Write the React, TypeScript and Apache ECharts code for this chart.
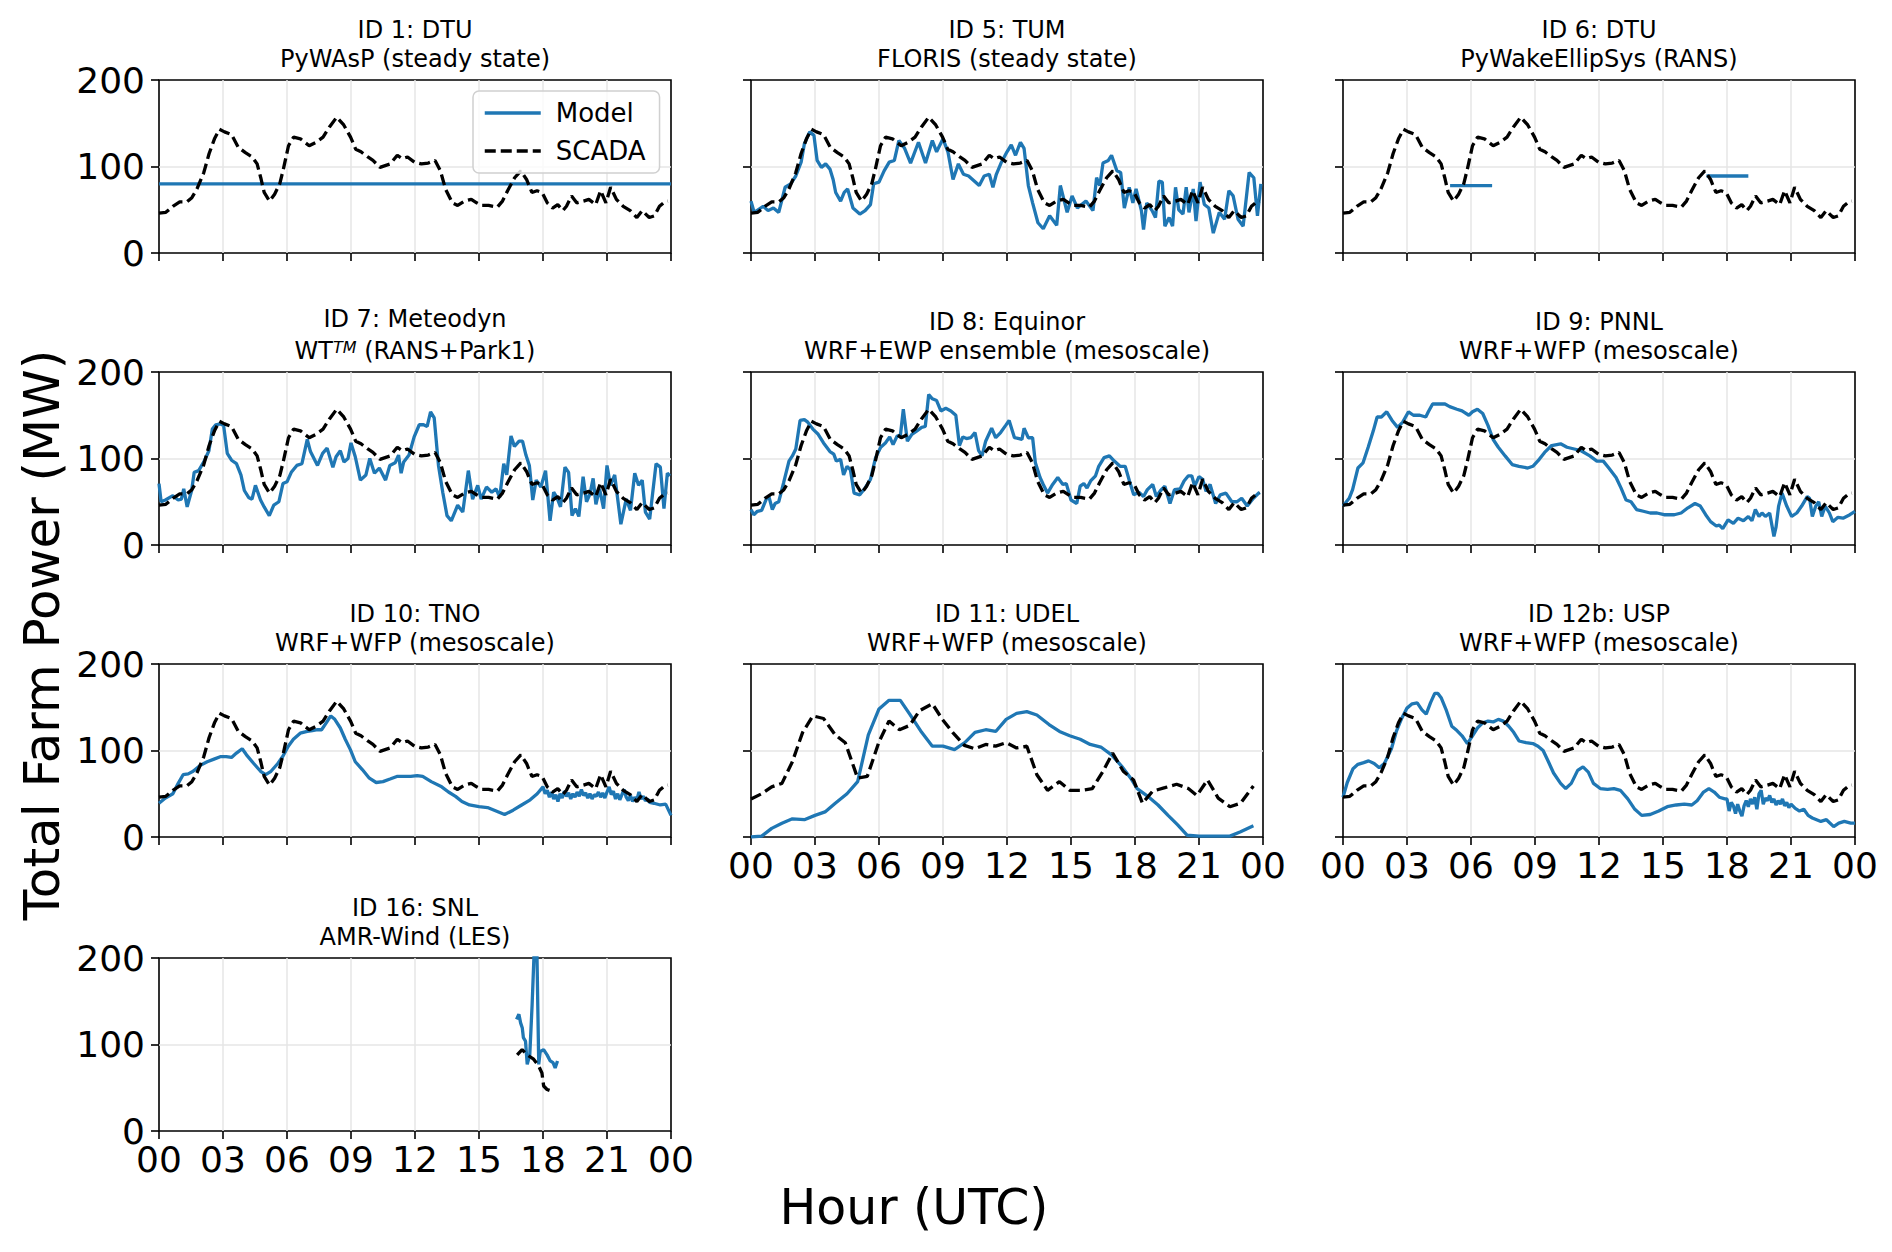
import React, { useEffect, useRef } from "react";
import * as echarts from "echarts";

type Pt = [number, number];

// hour (UTC), total farm power (MW)
const scada: Pt[] = [
  [0, 46], [0.32, 47], [0.65, 54], [0.97, 59], [1.3, 59], [1.54, 64], [1.78, 74], [2.1, 93],
  [2.35, 115], [2.6, 132], [2.83, 143], [3.07, 140], [3.4, 137], [3.72, 122], [4.05, 116],
  [4.37, 111], [4.6, 103], [4.77, 87], [4.93, 70], [5.18, 60], [5.42, 68], [5.66, 80],
  [5.83, 97], [6.07, 124], [6.31, 134], [6.63, 132], [7.04, 124], [7.36, 128], [7.69, 134],
  [8.0, 146], [8.33, 157], [8.66, 148], [8.98, 134], [9.22, 120], [9.47, 117], [9.79, 111],
  [10.03, 107], [10.36, 99], [10.6, 101], [10.84, 103], [11.17, 113], [11.4, 109],
  [11.65, 111], [11.97, 105], [12.3, 103], [12.62, 104], [12.94, 107], [13.19, 95],
  [13.43, 74], [13.75, 58], [14.0, 55], [14.32, 60], [14.64, 62], [14.89, 58], [15.13, 55],
  [15.45, 55], [15.86, 53], [16.1, 60], [16.34, 72], [16.67, 87], [16.96, 95], [17.23, 85],
  [17.48, 70], [17.72, 72], [17.96, 70], [18.2, 58], [18.45, 52], [18.69, 56], [18.93, 49],
  [19.1, 54], [19.34, 66], [19.58, 58], [19.9, 60], [20.15, 62], [20.47, 56], [20.7, 72],
  [20.95, 58], [21.17, 76], [21.44, 62], [21.76, 54], [22.09, 49], [22.4, 41], [22.65, 49],
  [22.98, 41], [23.22, 43], [23.46, 54], [23.7, 59], [23.85, 60],
];

const scadaCoarse: Pt[] = [
  [0, 44], [0.5, 50], [0.97, 58], [1.45, 62], [1.94, 87], [2.42, 121], [2.9, 140], [3.4, 137],
  [3.95, 118], [4.42, 109], [5.0, 68], [5.45, 70], [6.0, 110], [6.47, 134], [6.96, 124],
  [7.44, 129], [7.9, 146], [8.5, 154], [8.97, 136], [9.45, 121], [10.0, 106], [10.5, 102],
  [11.0, 107], [11.47, 105], [11.96, 109], [12.45, 103], [12.93, 105], [13.4, 72], [13.9, 54],
  [14.46, 64], [14.94, 54], [15.5, 54], [16.0, 56], [16.5, 76], [16.95, 97], [17.45, 76],
  [17.93, 66], [18.35, 39], [18.83, 53], [19.4, 57], [19.95, 61], [20.5, 56], [20.9, 48],
  [21.4, 66], [21.9, 45], [22.45, 35], [22.95, 39], [23.55, 59],
];

const scadaLes: Pt[] = [
  [16.79, 88], [17.02, 94], [17.26, 88], [17.56, 83], [17.8, 75], [17.95, 67], [18.03, 52],
  [18.19, 48], [18.42, 46],
];

const id1Model: Pt[] = [[0, 80], [24, 80]];

const id5Model: Pt[] = [
  [0, 60], [0.15, 47], [0.33, 50], [0.57, 54], [0.8, 49], [1.05, 52], [1.3, 47], [1.6, 76],
  [1.86, 80], [2.1, 89], [2.35, 105], [2.5, 126], [2.75, 140], [2.95, 136], [3.1, 107],
  [3.3, 99], [3.5, 103], [3.7, 97], [3.85, 85], [3.97, 70], [4.2, 60], [4.37, 70], [4.53, 74],
  [4.78, 52], [5.1, 45], [5.35, 49], [5.6, 56], [5.75, 80], [6.0, 82], [6.24, 95], [6.48, 105],
  [6.72, 107], [6.93, 130], [7.2, 121], [7.48, 104], [7.85, 128], [8.18, 104], [8.5, 130],
  [8.7, 117], [9.0, 132], [9.23, 117], [9.47, 85], [9.72, 103], [9.96, 91], [10.2, 89],
  [10.7, 78], [10.93, 89], [11.17, 91], [11.34, 76], [11.5, 91], [11.74, 105], [12.0, 117],
  [12.2, 125], [12.4, 113], [12.63, 128], [12.8, 121], [13.0, 78], [13.2, 58], [13.45, 35],
  [13.7, 28], [14.0, 43], [14.33, 32], [14.5, 78], [14.82, 47], [15.05, 66], [15.3, 52],
  [15.7, 60], [16.03, 49], [16.2, 87], [16.35, 78], [16.5, 104], [16.75, 107], [16.9, 113],
  [17.15, 95], [17.33, 93], [17.5, 52], [17.73, 76], [17.9, 58], [18.05, 74], [18.3, 49],
  [18.4, 27], [18.55, 58], [18.8, 49], [18.96, 41], [19.12, 83], [19.28, 82], [19.4, 31],
  [19.6, 41], [19.76, 31], [19.9, 76], [20.05, 50], [20.25, 45], [20.4, 76], [20.53, 47],
  [20.73, 74], [20.86, 37], [21.05, 82], [21.25, 56], [21.46, 52], [21.67, 23], [21.95, 47],
  [22.2, 39], [22.4, 72], [22.6, 66], [22.83, 39], [23.07, 31], [23.35, 93], [23.57, 87],
  [23.74, 43], [23.9, 80],
];

const id6ModelA: Pt[] = [[5.02, 78], [6.99, 78]];
const id6ModelB: Pt[] = [[17.04, 89], [19.0, 89]];

const id7Model: Pt[] = [
  [0, 71], [0.1, 50], [0.3, 52], [0.65, 57], [0.9, 52], [1.05, 53], [1.16, 65], [1.32, 44],
  [1.53, 63], [1.65, 84], [1.86, 86], [2.1, 96], [2.34, 109], [2.5, 134], [2.66, 139],
  [2.87, 140], [3.03, 138], [3.2, 106], [3.4, 98], [3.63, 94], [3.84, 81], [4.0, 63],
  [4.2, 55], [4.36, 53], [4.52, 69], [4.76, 52], [4.93, 44], [5.17, 34], [5.38, 46],
  [5.62, 50], [5.81, 71], [6.0, 73], [6.2, 84], [6.46, 92], [6.7, 94], [6.95, 122], [7.1, 108],
  [7.43, 92], [7.67, 106], [7.88, 112], [8.15, 90], [8.3, 102], [8.5, 109], [8.67, 96],
  [8.86, 100], [9.0, 118], [9.2, 102], [9.44, 75], [9.7, 81], [9.88, 100], [10.1, 83],
  [10.33, 89], [10.62, 75], [10.82, 92], [11.07, 95], [11.23, 104], [11.35, 83], [11.47, 96],
  [11.72, 104], [11.96, 125], [12.2, 139], [12.4, 139], [12.57, 137], [12.73, 154],
  [12.9, 147], [13.1, 92], [13.3, 61], [13.5, 34], [13.7, 28], [14.0, 46], [14.24, 38],
  [14.5, 86], [14.7, 53], [14.94, 69], [15.1, 53], [15.35, 67], [15.6, 61], [15.8, 65],
  [15.97, 55], [16.16, 94], [16.3, 81], [16.5, 126], [16.66, 114], [16.88, 120], [17.04, 120],
  [17.2, 104], [17.36, 92], [17.52, 52], [17.68, 75], [17.9, 67], [18.12, 86], [18.33, 28],
  [18.5, 61], [18.65, 55], [18.82, 44], [19.03, 90], [19.2, 84], [19.36, 34], [19.52, 42],
  [19.68, 33], [19.88, 79], [20.04, 50], [20.2, 59], [20.35, 77], [20.48, 47], [20.65, 65],
  [20.84, 42], [21.0, 92], [21.16, 69], [21.36, 81], [21.65, 24], [21.9, 53], [22.1, 40],
  [22.3, 83], [22.48, 69], [22.65, 75], [22.8, 38], [23.0, 30], [23.3, 94], [23.5, 90],
  [23.67, 42], [23.83, 83], [23.95, 80],
];

const id8Model: Pt[] = [
  [0, 41], [0.13, 35], [0.3, 39], [0.5, 40], [0.73, 54], [0.84, 56], [1.0, 41], [1.13, 48],
  [1.3, 50], [1.53, 72], [1.78, 97], [1.94, 103], [2.1, 111], [2.3, 144], [2.5, 145],
  [2.66, 142], [2.9, 134], [3.15, 128], [3.4, 118], [3.7, 108], [3.88, 105], [4.0, 97],
  [4.2, 99], [4.34, 81], [4.5, 91], [4.66, 87], [4.83, 60], [5.1, 58], [5.35, 66], [5.6, 76],
  [5.84, 101], [6.08, 113], [6.3, 118], [6.5, 125], [6.66, 116], [6.85, 126], [7.0, 126],
  [7.14, 157], [7.33, 120], [7.54, 128], [7.78, 132], [8.0, 136], [8.17, 137], [8.33, 174],
  [8.5, 169], [8.7, 167], [8.9, 155], [9.13, 158], [9.37, 155], [9.6, 150], [9.77, 115],
  [9.93, 125], [10.1, 123], [10.3, 124], [10.5, 130], [10.67, 109], [10.83, 103], [11.0, 120],
  [11.28, 135], [11.47, 124], [11.7, 130], [11.93, 138], [12.1, 144], [12.35, 124],
  [12.57, 123], [12.7, 122], [12.8, 135], [13.0, 124], [13.2, 124], [13.33, 95], [13.55, 78],
  [13.7, 70], [13.9, 60], [14.14, 70], [14.38, 78], [14.62, 70], [14.78, 71], [15.0, 52],
  [15.27, 48], [15.43, 68], [15.6, 71], [15.75, 66], [15.92, 74], [16.15, 80], [16.3, 91],
  [16.55, 101], [16.8, 103], [17.03, 97], [17.3, 91], [17.54, 91], [17.74, 74], [17.94, 58],
  [18.18, 61], [18.4, 56], [18.58, 64], [18.83, 70], [19.0, 56], [19.2, 63], [19.4, 68],
  [19.64, 48], [19.85, 64], [20.12, 65], [20.3, 74], [20.5, 80], [20.66, 80], [20.8, 68],
  [21.0, 79], [21.17, 76], [21.33, 62], [21.52, 70], [21.78, 48], [22.0, 58], [22.26, 60],
  [22.54, 50], [22.78, 50], [23.0, 54], [23.26, 45], [23.55, 54], [23.84, 61],
];

const id9Model: Pt[] = [
  [0, 45], [0.29, 54], [0.45, 64], [0.7, 89], [0.94, 95], [1.18, 113], [1.42, 132], [1.6, 148],
  [1.8, 148], [2.05, 154], [2.3, 144], [2.56, 136], [2.8, 142], [3.07, 154], [3.3, 150],
  [3.6, 150], [3.88, 148], [4.0, 154], [4.2, 163], [4.53, 163], [4.78, 163], [5.0, 160],
  [5.34, 157], [5.58, 155], [5.9, 150], [6.07, 154], [6.3, 157], [6.55, 152], [6.8, 138],
  [7.04, 122], [7.28, 113], [7.6, 103], [7.93, 93], [8.25, 91], [8.66, 89], [8.9, 91],
  [9.2, 99], [9.45, 107], [9.78, 115], [10.2, 117], [10.5, 113], [10.84, 111], [11.16, 109],
  [11.57, 103], [11.9, 97], [12.2, 97], [12.46, 89], [12.8, 78], [13.03, 66], [13.27, 52],
  [13.5, 50], [13.76, 41], [14.08, 39], [14.4, 37], [14.72, 37], [15.05, 35], [15.53, 35],
  [15.85, 37], [16.17, 43], [16.5, 48], [16.75, 45], [17.0, 35], [17.23, 27], [17.5, 22],
  [17.64, 23], [17.8, 19], [18.05, 29], [18.3, 25], [18.52, 31], [18.77, 28], [19.0, 33],
  [19.17, 28], [19.33, 41], [19.5, 33], [19.64, 37], [19.8, 33], [20.0, 37], [20.2, 10],
  [20.3, 21], [20.42, 45], [20.58, 60], [20.8, 45], [21.03, 33], [21.27, 37], [21.5, 45],
  [21.76, 56], [21.87, 54], [22.0, 33], [22.16, 45], [22.3, 50], [22.44, 33], [22.6, 45],
  [22.8, 37], [22.96, 27], [23.2, 32], [23.44, 31], [23.76, 35], [24, 39],
];

const id10Model: Pt[] = [
  [0, 39], [0.3, 45], [0.65, 50], [0.9, 62], [1.13, 72], [1.37, 73], [1.6, 76], [1.94, 83],
  [2.26, 87], [2.58, 90], [2.9, 93], [3.15, 93], [3.4, 92], [3.63, 97], [3.9, 102], [4.1, 95],
  [4.44, 85], [4.76, 76], [5.0, 72], [5.25, 76], [5.57, 85], [5.8, 93], [6.06, 105],
  [6.3, 113], [6.62, 120], [6.95, 122], [7.19, 123], [7.43, 124], [7.62, 124], [7.84, 132],
  [8.05, 140], [8.24, 136], [8.5, 126], [8.73, 113], [8.97, 101], [9.2, 87], [9.53, 78],
  [9.86, 68], [10.18, 63], [10.5, 64], [10.83, 67], [11.15, 70], [11.47, 70], [11.8, 70],
  [12.1, 71], [12.36, 70], [12.76, 64], [13.25, 58], [13.57, 52], [13.9, 47], [14.2, 41],
  [14.55, 37], [15.0, 35], [15.4, 34], [15.8, 30], [16.2, 26], [16.6, 31], [17.0, 37],
  [17.4, 43], [17.73, 50], [18.0, 58], [18.1, 50], [18.2, 54], [18.3, 46], [18.4, 52],
  [18.5, 44], [18.6, 49], [18.7, 41], [18.8, 50], [18.9, 45], [19.0, 53], [19.1, 47],
  [19.2, 51], [19.3, 44], [19.4, 50], [19.5, 46], [19.6, 52], [19.7, 47], [19.8, 55],
  [19.9, 48], [20.0, 51], [20.1, 45], [20.2, 50], [20.3, 44], [20.4, 49], [20.5, 47],
  [20.6, 52], [20.7, 46], [20.8, 51], [20.9, 45], [21.0, 52], [21.1, 58], [21.2, 49],
  [21.3, 53], [21.4, 44], [21.5, 50], [21.6, 43], [21.7, 49], [21.8, 55], [21.9, 46],
  [22.0, 42], [22.1, 48], [22.2, 41], [22.3, 46], [22.4, 43], [22.5, 52], [22.6, 44],
  [22.7, 47], [22.8, 42], [22.9, 44], [23.0, 40], [23.2, 39], [23.5, 37], [23.75, 38],
  [24, 25],
];

const id11Model: Pt[] = [
  [0, 0], [0.5, 1], [0.97, 10], [1.45, 16], [1.94, 21], [2.5, 20], [3.0, 25], [3.47, 29],
  [3.95, 39], [4.5, 50], [5.0, 64], [5.5, 118], [6.0, 148], [6.47, 158], [7.0, 158],
  [7.44, 142], [8.0, 121], [8.5, 105], [9.0, 105], [9.54, 101], [10.02, 109], [10.5, 121],
  [11.0, 124], [11.47, 122], [11.96, 136], [12.45, 143], [12.93, 145], [13.4, 141],
  [13.97, 130], [14.46, 122], [14.94, 117], [15.43, 113], [15.9, 107], [16.4, 104],
  [16.9, 95], [17.37, 82], [17.8, 68], [18.1, 56], [18.6, 47], [19.08, 37], [19.55, 25],
  [20.0, 14], [20.45, 2], [21.0, 1], [21.5, 1], [22.45, 1], [22.95, 6], [23.55, 13],
];

const id12bModel: Pt[] = [
  [0, 46], [0.2, 63], [0.47, 79], [0.7, 84], [0.97, 86], [1.2, 88], [1.46, 85], [1.7, 80],
  [1.94, 85], [2.27, 102], [2.5, 122], [2.75, 137], [3.0, 149], [3.24, 154], [3.48, 155],
  [3.7, 147], [3.9, 142], [4.1, 155], [4.3, 166], [4.45, 166], [4.6, 161], [4.85, 146],
  [5.1, 128], [5.34, 123], [5.58, 117], [5.83, 108], [6.07, 117], [6.3, 126], [6.55, 132],
  [6.8, 134], [7.04, 133], [7.28, 136], [7.52, 134], [7.77, 128], [8.0, 121], [8.25, 111],
  [8.58, 109], [8.9, 108], [9.14, 105], [9.38, 100], [9.63, 87], [9.87, 74], [10.2, 62],
  [10.44, 56], [10.7, 62], [11.0, 77], [11.25, 81], [11.5, 75], [11.74, 62], [12.06, 56],
  [12.4, 55], [12.7, 56], [13.0, 54], [13.35, 44], [13.68, 32], [14.0, 25], [14.4, 26],
  [14.8, 30], [15.2, 35], [15.62, 37], [16.0, 38], [16.35, 37], [16.6, 42], [16.9, 52],
  [17.15, 56], [17.4, 52], [17.64, 46], [17.9, 44], [18.0, 44], [18.1, 30], [18.2, 40],
  [18.3, 36], [18.4, 27], [18.5, 38], [18.6, 30], [18.7, 24], [18.8, 36], [18.9, 42],
  [19.0, 35], [19.1, 44], [19.2, 38], [19.3, 46], [19.4, 32], [19.5, 50], [19.6, 54],
  [19.7, 38], [19.8, 45], [19.9, 42], [20.0, 48], [20.1, 40], [20.2, 44], [20.3, 37],
  [20.4, 42], [20.5, 38], [20.6, 44], [20.7, 36], [20.8, 40], [20.9, 34], [21.0, 38],
  [21.2, 33], [21.4, 30], [21.6, 32], [21.8, 25], [22.0, 22], [22.2, 20], [22.4, 18],
  [22.66, 20], [23.0, 12], [23.24, 16], [23.5, 18], [23.8, 16], [24, 16],
];

const id16Model: Pt[] = [
  [16.76, 129], [16.87, 135], [16.95, 125], [17.03, 119], [17.08, 108], [17.18, 104],
  [17.26, 77], [17.38, 88], [17.49, 146], [17.62, 230], [17.7, 230], [17.8, 77], [17.87, 92],
  [18.03, 94], [18.19, 88], [18.34, 81], [18.47, 79], [18.57, 73], [18.68, 81],
];

const panels = [
  { head: "ID 1: DTU", sub: "PyWAsP (steady state)", col: 0, row: 0, model: [id1Model], obs: scada },
  { head: "ID 5: TUM", sub: "FLORIS (steady state)", col: 1, row: 0, model: [id5Model], obs: scada },
  { head: "ID 6: DTU", sub: "PyWakeEllipSys (RANS)", col: 2, row: 0, model: [id6ModelA, id6ModelB], obs: scada },
  { head: "ID 7: Meteodyn", sub: "WT{sup|TM} (RANS+Park1)", col: 0, row: 1, model: [id7Model], obs: scada },
  { head: "ID 8: Equinor", sub: "WRF+EWP ensemble (mesoscale)", col: 1, row: 1, model: [id8Model], obs: scada },
  { head: "ID 9: PNNL", sub: "WRF+WFP (mesoscale)", col: 2, row: 1, model: [id9Model], obs: scada },
  { head: "ID 10: TNO", sub: "WRF+WFP (mesoscale)", col: 0, row: 2, model: [id10Model], obs: scada },
  { head: "ID 11: UDEL", sub: "WRF+WFP (mesoscale)", col: 1, row: 2, model: [id11Model], obs: scadaCoarse },
  { head: "ID 12b: USP", sub: "WRF+WFP (mesoscale)", col: 2, row: 2, model: [id12bModel], obs: scada },
  { head: "ID 16: SNL", sub: "AMR-Wind (LES)", col: 0, row: 3, model: [id16Model], obs: scadaLes },
];

const FONT = "DejaVu Sans";
const COL_X = [159, 751, 1343];
const ROW_Y = [80, 372, 664, 958];
const PW = 512;
const PH = 173;

const App: React.FC = () => {
  const chartRef = useRef<HTMLDivElement>(null);

  useEffect(() => {
    if (!chartRef.current) return;
    const chart = echarts.init(chartRef.current, null, { renderer: "svg" });

    const grid = panels.map((p) => ({
      left: COL_X[p.col],
      top: ROW_Y[p.row],
      width: PW,
      height: PH,
      show: true,
      borderColor: "#000",
      borderWidth: 1.6,
      backgroundColor: "transparent",
    }));

    const gridLine = {
      show: true,
      showMinLine: false,
      showMaxLine: false,
      lineStyle: { color: "#e6e6e6", width: 1.5 },
    };

    const xAxis = panels.map((p, i) => ({
      type: "value",
      gridIndex: i,
      min: 0,
      max: 24,
      interval: 3,
      axisLine: { show: false },
      axisTick: { show: true, length: 8, lineStyle: { color: "#000", width: 1.6 } },
      axisLabel: {
        show: p.row === 3 || (p.row === 2 && p.col > 0),
        fontSize: 36,
        fontFamily: FONT,
        color: "#000",
        margin: 10,
        formatter: (v: number) => String(v % 24).padStart(2, "0"),
      },
      splitLine: gridLine,
    }));

    const yAxis = panels.map((p, i) => ({
      type: "value",
      gridIndex: i,
      min: 0,
      max: 200,
      interval: 100,
      axisLine: { show: false },
      axisTick: { show: true, length: 8, lineStyle: { color: "#000", width: 1.6 } },
      axisLabel: {
        show: p.col === 0,
        fontSize: 36,
        fontFamily: FONT,
        color: "#000",
        margin: 14,
      },
      splitLine: gridLine,
    }));

    const series: any[] = [];
    panels.forEach((p, i) => {
      p.model.forEach((seg) => {
        series.push({
          type: "line",
          name: "Model",
          xAxisIndex: i,
          yAxisIndex: i,
          data: seg,
          symbol: "none",
          showSymbol: false,
          lineStyle: { color: "#1f77b4", width: 3.3 },
          itemStyle: { color: "#1f77b4" },
        });
      });
      series.push({
        type: "line",
        name: "SCADA",
        xAxisIndex: i,
        yAxisIndex: i,
        data: p.obs,
        symbol: "none",
        showSymbol: false,
        lineStyle: { color: "#000", width: 3.3, type: [11, 5] },
        itemStyle: { color: "#000" },
      });
    });

    const titles: any[] = [];
    panels.forEach((p) => {
      const cx = COL_X[p.col] + PW / 2;
      const top = ROW_Y[p.row];
      titles.push({
        type: "text",
        x: cx,
        y: top - (p.sub.includes("{sup|") ? 53 : 50),
        style: {
          text: p.head,
          font: `24px "${FONT}"`,
          fill: "#000",
          textAlign: "center",
          textVerticalAlign: "middle",
        },
      });
      titles.push({
        type: "text",
        x: cx,
        y: top - 21,
        style: {
          text: p.sub,
          font: `24px "${FONT}"`,
          fill: "#000",
          textAlign: "center",
          textVerticalAlign: "middle",
          rich: {
            sup: {
              fontSize: 16,
              fontStyle: "italic",
              fontFamily: FONT,
              lineHeight: 16,
              verticalAlign: "top",
            },
          },
        },
      });
    });

    chart.setOption({
      animation: false,
      backgroundColor: "#fff",
      grid,
      xAxis,
      yAxis,
      series,
      legend: {
        data: ["Model", "SCADA"],
        orient: "vertical",
        left: 473,
        top: 91,
        itemWidth: 56,
        itemHeight: 14,
        itemGap: 12,
        padding: [9, 14, 9, 10],
        backgroundColor: "rgba(255,255,255,0.8)",
        borderColor: "#d0d0d0",
        borderWidth: 1.5,
        borderRadius: 6,
        itemStyle: { opacity: 0, borderWidth: 0 },
        lineStyle: { width: 3.5 },
        textStyle: { fontSize: 26, fontFamily: FONT, color: "#000", padding: [0, 0, 0, 10] },
      },
      graphic: [
        ...titles,
        {
          type: "text",
          x: 42,
          y: 635,
          rotation: Math.PI / 2,
          style: {
            text: "Total Farm Power (MW)",
            font: `50px "${FONT}"`,
            fill: "#000",
            textAlign: "center",
            textVerticalAlign: "middle",
          },
        },
        {
          type: "text",
          x: 914,
          y: 1207,
          style: {
            text: "Hour (UTC)",
            font: `49px "${FONT}"`,
            fill: "#000",
            textAlign: "center",
            textVerticalAlign: "middle",
          },
        },
      ],
    });

    return () => {
      chart.dispose();
    };
  }, []);

  return (
    <div
      ref={chartRef}
      style={{ position: "absolute", left: 0, top: 0, width: 1892, height: 1252 }}
    />
  );
};

export default App;
